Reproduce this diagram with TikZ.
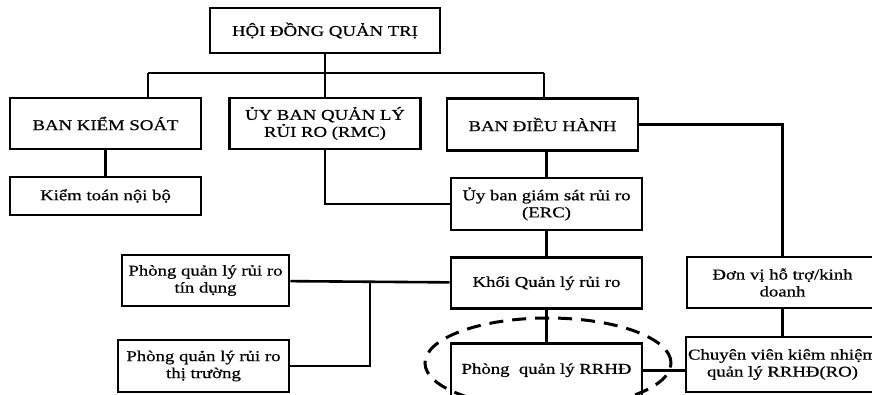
\documentclass[tikz,border=0pt]{standalone}
\usepackage{fontspec}
\setmainfont{Liberation Serif}[FakeStretch=1.25,FakeBold=0.6]
\usepackage{tikz}
\usetikzlibrary{positioning}
\tikzstyle{unit} = [draw,line width=2.6pt,inner sep=2pt,align=center,minimum width=191pt,minimum height=51pt,font=\fontsize{15}{17}\selectfont]
\tikzstyle{link} = [line width=2.6pt]
\tikzstyle{focus} = [line width=3pt,dash pattern=on 14pt off 9pt]

\begin{document}
\begin{tikzpicture}[x=1pt,y=-1pt]
			\useasboundingbox (0,0) rectangle (872,394);
			
			\node[unit,minimum width=230pt,minimum height=45pt] (hdqt) at (325,30.5) {HỘI ĐỒNG QUẢN TRỊ};
			\node[unit] (bks) at (105.5,123.5) {BAN KIỂM SOÁT};
			\node[unit] (rmc) at (325,123.5) {ỦY BAN QUẢN LÝ\\RỦI RO (RMC)};
			\node[unit,minimum height=52pt] (bdh) at (542.5,124.5) {BAN ĐIỀU HÀNH};
			\node[unit,minimum height=38pt] (ktnb) at (105.5,196) {Kiểm toán nội bộ};
			
			\node[unit,minimum height=52pt] (erc) at (546.5,204) {Ủy ban giám sát rủi ro\\(ERC)};
			\node[unit,below=25pt of erc] (khoi) {Khối Quản lý rủi ro};
			\node[unit,minimum height=54pt,below=32pt of khoi] (rrhd) {Phòng~ quản lý RRHĐ};
			
			\node[unit,minimum width=167pt] (ptd) at (205.5,280.5) {Phòng quản lý rủi ro\\tín dụng};
			\node[unit,minimum width=171pt,minimum height=52pt] (ptt) at (203.5,366) {Phòng quản lý rủi ro\\thị trường};
			
			\node[unit] (dvht) at (782.5,282.5) {Đơn vị hỗ trợ/kinh\\doanh};
			\node[unit,minimum height=55pt] (cv) at (782.5,364.5) {Chuyên viên kiêm nhiệm\\quản lý RRHĐ(RO)};
			
			\coordinate (busL) at (148,73);
			\coordinate (busR) at (544,73);
			\coordinate (fork) at (370,280.5);
			
			\draw[link] (hdqt) -- (rmc);
			\draw[link] (busL) -- (busR);
			\draw[link] (busL) -- (busL |- bks.north);
			\draw[link] (busR) -- (busR |- bdh.north);
			\draw[link] (bks) -- (ktnb);
			\draw[link] (rmc) |- (erc);
			\draw[link] (erc.north) -- (erc.north |- bdh.south);
			\draw[link] (bdh) -| (dvht);
			\draw[link] (erc) -- (khoi);
			\draw[link] (khoi) -- (rrhd);
			\draw[link] (dvht) -- (cv);
			\draw[link] (ptd) -- (khoi);
			\draw[link] (fork) |- (ptt);
			\draw[link] (rrhd.east) -- (rrhd.east -| cv.west);
			
			\draw[focus] (548,363) ellipse [x radius=123pt, y radius=45pt];
			
\end{tikzpicture}
\end{document}
